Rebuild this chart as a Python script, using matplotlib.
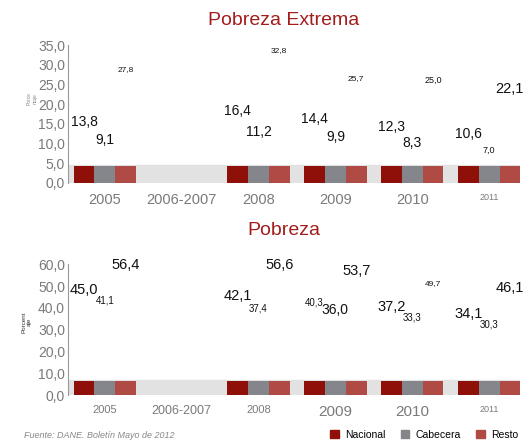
import numpy as np
import matplotlib.pyplot as plt
from matplotlib.patches import Patch

years = ['2005', '2006-2007', '2008', '2009', '2010', '2011']
series = ['Nacional', 'Cabecera', 'Resto']

# None where there is no data (2006-2007)
extrema_nacional = [13.8, None, 16.4, 14.4, 12.3, 10.6]
extrema_cabecera = [9.1, None, 11.2, 9.9, 8.3, 7.0]
extrema_resto = [27.8, None, 32.8, 25.7, 25.0, 22.1]

pobreza_nacional = [45.0, None, 42.1, 40.3, 37.2, 34.1]
pobreza_cabecera = [41.1, None, 37.4, 36.0, 33.3, 30.3]
pobreza_resto = [56.4, None, 56.6, 53.7, 49.7, 46.1]

colors = ['#8e1008', '#85858c', '#b04a44']
title_color = '#a31d1d'
tick_color = '#7a7a7a'
font = 'Liberation Sans'

# label font sizes (the source mixes big and small labels)
extrema_sizes = [[10, 10, 10, 10, 10],
                 [10, 10, 10, 10, 6.5],
                 [6, 6, 6, 6.5, 10.5]]
pobreza_sizes = [[10.5, 10.5, 7, 10.5, 10.5],
                 [7, 7, 10, 7, 7],
                 [10.5, 10.5, 10.5, 6, 10.5]]

fig = plt.figure(figsize=(5.3, 4.47), dpi=100)

def draw(ax, data, sizes, ymax, step, stub, tick_fs):
    x = np.arange(len(years))
    w = 0.27
    ax.axhspan(-stub * 0.15, stub * 1.05, color='#e2e2e2', zorder=0)
    for i, vals in enumerate(data):
        pos = x + (i - 1) * w
        k = 0
        for p, v in zip(pos, vals):
            if v is None:
                continue
            ax.bar(p, stub, width=w, color=colors[i], zorder=2)
            ax.text(p, v, '{:.1f}'.format(v).replace('.', ','),
                    ha='center', va='bottom', fontsize=sizes[i][k],
                    family=font, color='#111111')
            k += 1
    ax.set_xlim(-0.48, 5.4)
    ax.set_ylim(0, ymax)
    ticks = np.arange(0, ymax + 0.1, step)
    ax.set_yticks(ticks)
    ax.set_yticklabels(['{:.1f}'.format(t).replace('.', ',') for t in ticks],
                       family=font, fontsize=10, color=tick_color)
    ax.set_xticks(x)
    ax.set_xticklabels(years, family=font, color=tick_color)
    for lbl, fs in zip(ax.get_xticklabels(), tick_fs):
        lbl.set_fontsize(fs)
    ax.tick_params(axis='both', length=0, pad=2)
    ax.tick_params(axis='x', pad=7)
    for s in ['top', 'right', 'bottom']:
        ax.spines[s].set_visible(False)
    ax.spines['left'].set_color('#999999')
    ax.patch.set_alpha(0)

ax1 = fig.add_axes([0.128, 0.591, 0.853, 0.308])
draw(ax1, [extrema_nacional, extrema_cabecera, extrema_resto], extrema_sizes,
     35, 5, 4.2, [10.5, 10.5, 10.5, 10.5, 10.5, 6.5])
ax2 = fig.add_axes([0.128, 0.116, 0.853, 0.293])
draw(ax2, [pobreza_nacional, pobreza_cabecera, pobreza_resto], pobreza_sizes,
     60, 10, 6.4, [8, 9, 8, 11, 11, 6.5])

fig.text(0.535, 0.955, 'Pobreza Extrema', ha='center', va='center',
         fontsize=14, color=title_color, family=font)
fig.text(0.535, 0.485, 'Pobreza', ha='center', va='center',
         fontsize=14, color=title_color, family=font)
fig.text(0.06, 0.78, 'Porce\nntaje', rotation=90, ha='center', va='center',
         fontsize=3.5, color='#888888', family=font)
fig.text(0.05, 0.28, 'Porcent\naje', rotation=90, ha='center', va='center',
         fontsize=4.5, color='#333333', family=font)
fig.text(0.045, 0.02, 'Fuente: DANE. Boletín Mayo de 2012', style='italic',
         fontsize=6.5, color='#888888', family=font)

handles = [Patch(color=c) for c in colors]
fig.legend(handles, series, loc='lower right', bbox_to_anchor=(0.995, -0.005),
           ncol=3, frameon=False, handlelength=0.8, handleheight=0.8,
           columnspacing=1.5, handletextpad=0.6,
           prop={'family': font, 'size': 7.5})

fig.savefig('out.png', dpi=100)
